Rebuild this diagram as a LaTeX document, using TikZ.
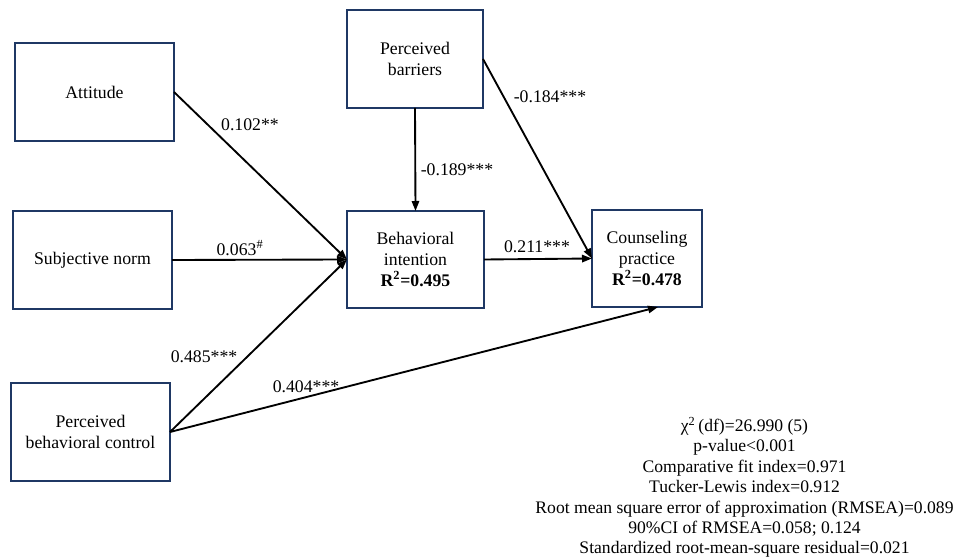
\documentclass[tikz,border=0pt]{standalone}
\usepackage{fontspec}
\setmainfont{Liberation Serif}
\usetikzlibrary{arrows.meta,calc}
\definecolor{boxblue}{HTML}{1F3864}
\begin{document}
\begin{tikzpicture}[x=0.75pt,y=-0.75pt,
  varbox/.style={draw=boxblue,line width=1.5pt,fill=white,align=center,
    inner sep=0pt,outer sep=0pt,font=\fontsize{13.3}{15.75}\selectfont},
  path/.style={line width=1.4pt,-{Triangle[length=7.5pt,width=5.5pt]}},
  coef/.style={font=\fontsize{13.3}{15.75}\selectfont,inner sep=0pt}]
\useasboundingbox (0,0) rectangle (960,559);
\node[varbox,minimum width=119.25pt,minimum height=73.5pt] (att) at (94.5,92) {Attitude};
\node[varbox,minimum width=119.25pt,minimum height=73.5pt] (sn) at (92.5,260) {Subjective norm};
\node[varbox,minimum width=119.25pt,minimum height=73.5pt] (pbc) at (90.5,432) {Perceived\\behavioral control};
\node[varbox,minimum width=102pt,minimum height=73.5pt] (pb) at (415,59) {Perceived\\barriers};
\node[varbox,minimum width=102.75pt,minimum height=72.75pt] (bi) at (415.5,259.5) {Behavioral\\intention\\\textbf{R\textsuperscript{2}=0.495}};
\node[varbox,minimum width=82.5pt,minimum height=72.75pt] (cp) at (647,258.5) {Counseling\\practice\\\textbf{R\textsuperscript{2}=0.478}};
\coordinate (cpin) at ($(cp.south)!0.2!(cp.south east)$);
\draw[path] (att.east) -- (bi.west);
\draw[path] (sn.east) -- (bi.west);
\draw[path] (pbc.east) -- (bi.west);
\draw[path] (pb.south) -- (bi.north);
\draw[path] (pb.east) -- (cp.west);
\draw[path] (bi.east) -- (cp.west);
\draw[path] (pbc.east) -- (cpin);
\node[coef] (l1) at (250,125) {0.102**};
\node[coef] (l2) at (240,248) {0.063\textsuperscript{\#}};
\node[coef] (l3) at (457,170) {-0.189***};
\node[coef] (l4) at (550,97) {-0.184***};
\node[coef] (l5) at (537,247) {0.211***};
\node[coef] (l6) at (204,357) {0.485***};
\node[coef] (l7) at (306,387) {0.404***};
\node[align=center,inner sep=0pt,font=\fontsize{13.2}{15.3}\selectfont] (fit) at (744.5,487.5)
 {χ\textsuperscript{2}\,(df)=26.990 (5)\\p-value<0.001\\Comparative fit index=0.971\\Tucker-Lewis index=0.912\\Root mean square error of approximation (RMSEA)=0.089\\90\%CI of RMSEA=0.058; 0.124\\Standardized root-mean-square residual=0.021};
\end{tikzpicture}
\end{document}
